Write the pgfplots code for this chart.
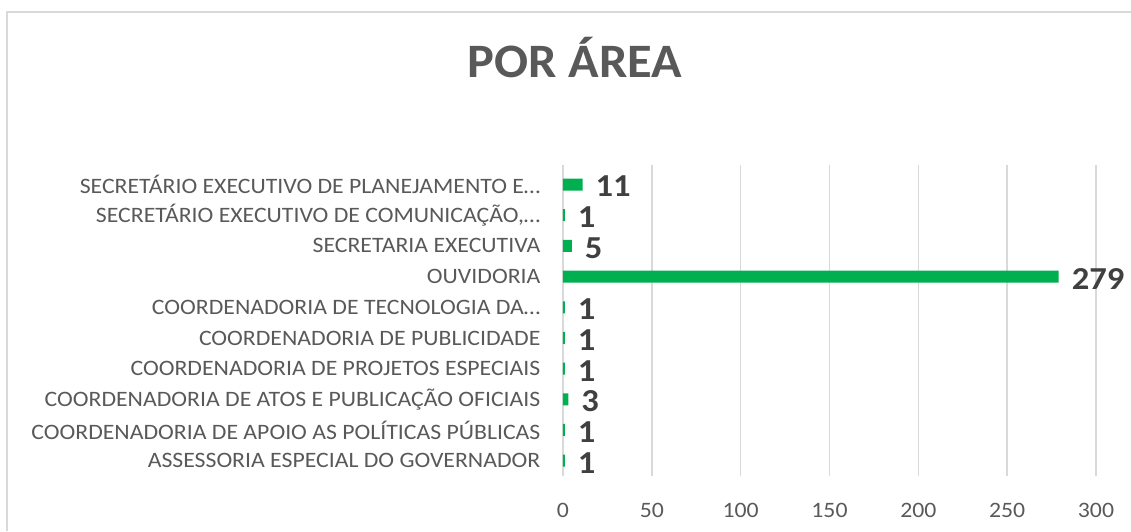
\documentclass[border=0pt]{standalone}
\usepackage{pgfplots}
\pgfplotsset{compat=1.18}
\usepackage{fontspec}
\setmainfont{Carlito}[FakeStretch=1.08]
\newfontfamily\titlefont{Carlito}[FakeStretch=1.05]
\definecolor{barg}{HTML}{00B050}
\definecolor{txtg}{HTML}{595959}
\definecolor{lblg}{HTML}{404040}
\definecolor{gridg}{HTML}{D9D9D9}
\begin{document}
\begin{tikzpicture}
\useasboundingbox (0,0) rectangle (565.5pt,265.5pt);
\draw[gridg, line width=0.75pt] (3.5pt,0) -- (3.5pt,259.5pt) -- (565.5pt,259.5pt);
\node[anchor=base, font=\titlefont\fontsize{24}{28}\selectfont\bfseries, text=txtg] at (287.5pt,226.5pt) {POR ÁREA};
\begin{axis}[
  at={(281.5pt,27.5pt)}, anchor=south west,
  scale only axis, width=266.5pt, height=155.7pt,
  xbar, bar width=6pt,
  xmin=0, xmax=300, ymin=-0.5, ymax=9.65,
  xtick={0,50,...,300},
  ytick={0,...,9},
  yticklabels={ASSESSORIA ESPECIAL DO GOVERNADOR,
    COORDENADORIA DE APOIO AS POLÍTICAS PÚBLICAS,
    COORDENADORIA DE ATOS E PUBLICAÇÃO OFICIAIS,
    COORDENADORIA DE PROJETOS ESPECIAIS,
    COORDENADORIA DE PUBLICIDADE,
    COORDENADORIA DE TECNOLOGIA DA…,
    OUVIDORIA,
    SECRETARIA EXECUTIVA,
    {SECRETÁRIO EXECUTIVO DE COMUNICAÇÃO,…},
    SECRETÁRIO EXECUTIVO DE PLANEJAMENTO E…},
  /pgf/number format/assume math mode=true,
  axis line style={draw=none},
  tick style={draw=none},
  xmajorgrids, grid style={gridg, line width=0.75pt},
  yticklabel style={font=\fontsize{11}{13}\selectfont, text=txtg, xshift=-3.5pt},
  xticklabel style={font=\fontsize{11}{13}\selectfont, text=txtg, yshift=-10pt},
  nodes near coords,
  nodes near coords style={font=\fontsize{16}{18}\selectfont\bfseries, text=lblg, anchor=west, xshift=3pt, yshift=-1pt},
]
\addplot[fill=barg, draw=none] coordinates {
(1,0) (1,1) (3,2) (1,3) (1,4) (1,5) (279,6) (5,7) (1,8) (11,9)
};
\end{axis}
\end{tikzpicture}
\end{document}
